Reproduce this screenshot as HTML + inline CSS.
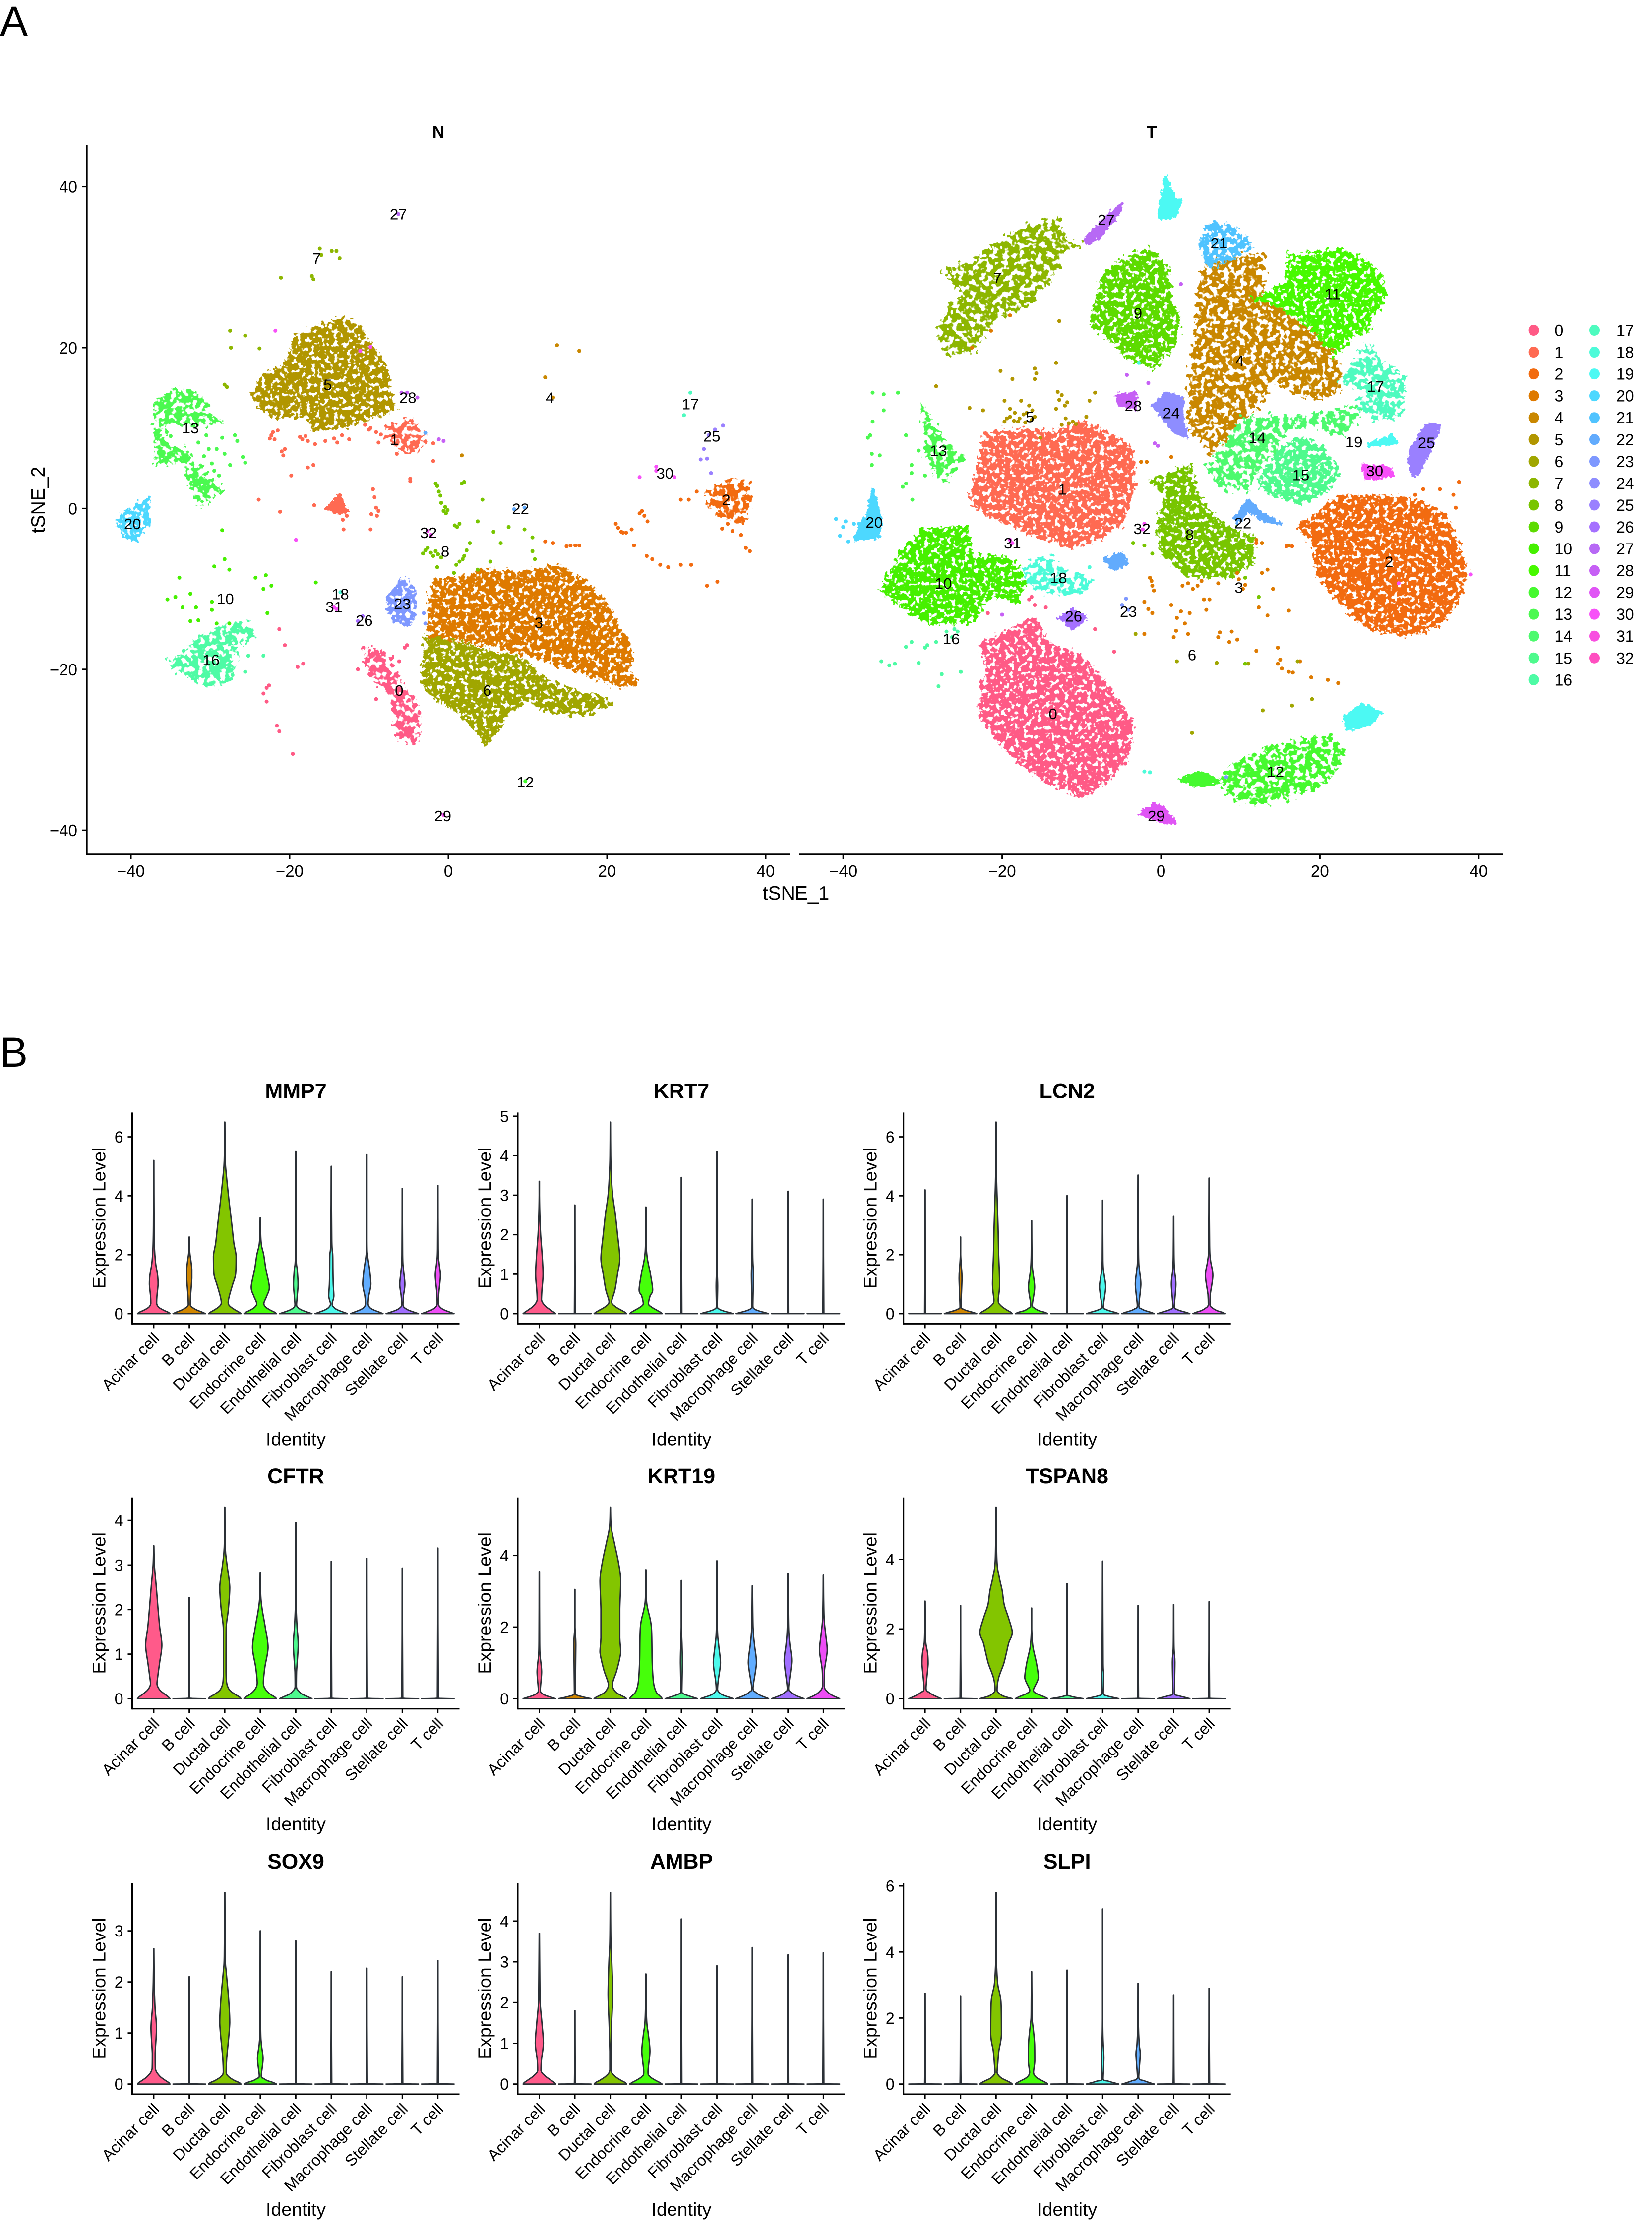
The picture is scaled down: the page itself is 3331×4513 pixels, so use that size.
<!DOCTYPE html>
<html lang="en">
<head>
<meta charset="utf-8">
<title>tSNE clusters and marker gene violins</title>
<style>
html,body{margin:0;padding:0;background:#fff}
svg{display:block}
text{font-family:"Liberation Sans",sans-serif;fill:#000}
</style>
</head>
<body>
<svg id="fig" xmlns="http://www.w3.org/2000/svg" width="3331" height="4513" viewBox="0 0 3331 4513">
<defs>
<filter id="speckle" x="-6%" y="-6%" width="112%" height="112%" color-interpolation-filters="sRGB">
<feTurbulence type="fractalNoise" baseFrequency="0.11" numOctaves="2" seed="7" result="n"/>
<feDisplacementMap in="SourceGraphic" in2="n" scale="26" xChannelSelector="R" yChannelSelector="G" result="d"/>
<feColorMatrix in="n" type="matrix" values="0 0 0 0 0 0 0 0 0 0 0 0 0 0 0 0 0 0 -16 10.1" result="m"/>
<feComposite in="d" in2="m" operator="in"/>
</filter>
<filter id="sparse" x="-8%" y="-8%" width="116%" height="116%" color-interpolation-filters="sRGB">
<feTurbulence type="fractalNoise" baseFrequency="0.09" numOctaves="2" seed="11" result="n"/>
<feDisplacementMap in="SourceGraphic" in2="n" scale="34" xChannelSelector="R" yChannelSelector="G" result="d"/>
<feColorMatrix in="n" type="matrix" values="0 0 0 0 0 0 0 0 0 0 0 0 0 0 0 0 0 0 -16 9.3" result="m"/>
<feComposite in="d" in2="m" operator="in"/>
</filter>
<filter id="rough" x="-25%" y="-25%" width="150%" height="150%" color-interpolation-filters="sRGB">
<feTurbulence type="fractalNoise" baseFrequency="0.14" numOctaves="2" seed="3" result="n"/>
<feDisplacementMap in="SourceGraphic" in2="n" scale="14" xChannelSelector="R" yChannelSelector="G"/>
</filter>
</defs>
<rect width="3331" height="4513" fill="#fff"/>
<text x="0" y="72" font-size="84">A</text>
<text x="0" y="2151" font-size="84">B</text>
<text x="884" y="278" font-size="34" font-weight="700" text-anchor="middle">N</text>
<text x="2322" y="278" font-size="34" font-weight="700" text-anchor="middle">T</text>
<text x="1605" y="1814" font-size="39" text-anchor="middle">tSNE_1</text>
<text transform="translate(90,1008) rotate(-90)" font-size="39" text-anchor="middle">tSNE_2</text>
<g id="tsne"></g>
<g id="legend"></g>
<g id="violins"></g>
</svg>
<script>
/* ---------- tSNE data (data units) ---------- */
const clusterLabels = ["0","1","2","3","4","5","6","7","8","9","10","11","12","13","14","15","16","17","18","19","20","21","22","23","24","25","26","27","28","29","30","31","32"];
const clusterColors = ["#FF5A86","#FF6A52","#F26B10","#DE7A00","#C98700","#B19600","#A0A600","#8DB600","#78C500","#5DDB00","#46F000","#47F900","#46F92F","#4BF950","#4DFA6E","#4EFA8D","#4EFBA5","#4EFBBF","#4DFBD9","#4CF9F3","#4DD8FF","#50C3FF","#62ABFD","#7E98FF","#8E8DFF","#9A80FF","#A570FF","#B769F5","#C660F5","#E055F5","#F750F8","#F84FE0","#FF4FC0"];
const xTicks = [-40,-20,0,20,40];
const yTicks = [-40,-20,0,20,40];

/* N panel: cluster outlines [x,y,x,y,...] */
const nOutline5 = [-24.7,14.1,-23.6,16.4,-20.6,17.8,-19.3,21.5,-16.4,22.5,-13.4,23.7,-11.1,22.5,-9.5,19.8,-7.8,17.4,-7.5,14.8,-6.8,12.4,-10.5,11.1,-13.1,10.1,-17,9.8,-17.7,11.4,-21.6,11.4,-23.3,12.1];
const nOutline3 = [-2.6,-15.3,-2.2,-10.3,-1.6,-9,1.4,-8.6,5,-7.6,8.3,-8,11.9,-7.6,13.9,-7,17.5,-9.3,20.1,-12,21.8,-15.3,23.1,-17.6,22.7,-20,23.9,-21.9,21.8,-22.1,17.8,-20.7,12.6,-19,9.3,-18,5.3,-17,1.4,-16.3,-1.9,-16];
const nOutline6 = [-2.9,-16,-.6,-16.3,2.7,-17,6,-18,9.3,-18.7,11.9,-21,15.2,-22.7,18.1,-23,20.8,-24.3,17.8,-25.3,15.2,-25.7,11.9,-25,9.9,-23.7,7.3,-25.7,6,-28,4.7,-29.3,2.7,-26.7,1.4,-25.3,-1.2,-24,-3.2,-21.7];
const nOutline23 = [-7.5,-10.6,-5.5,-8.6,-4.2,-10.3,-4.2,-13.3,-5.2,-14.5,-7.2,-13.6,-7.7,-12];
const nOutline0 = [-10.5,-17.4,-9.1,-17.6,-7.5,-18.6,-5.9,-22,-3.9,-24.3,-3.4,-27.3,-4.5,-29.3,-6.2,-28.7,-6.8,-26,-7,-23.3,-9.1,-21.3,-10.5,-19.4];
const nOutline13 = [-36.9,13.1,-34.8,14.8,-31.5,14.4,-29.8,11.4,-28.5,10.9,-31.5,10.4,-35.4,10.8,-36.1,8.8,-35.1,7.4,-33.1,7.4,-31.2,4.7,-28.5,2.4,-29.8,1.1,-31.2,.4,-32.8,3.4,-33.8,6.1,-36.8,5.4,-37.1,9.4];
const nOutline16 = [-35.3,-19.3,-33.5,-18,-32.1,-16.6,-29.5,-15,-25.6,-14,-24.6,-15.6,-26.9,-17.3,-27.2,-20.7,-28.9,-22,-32.1,-21.3,-34.1,-20];
const nOutline20 = [-41.7,-1.9,-41,-.6,-39,.4,-37.7,1.4,-37.7,-1.9,-39.4,-3.9,-41,-3.3];
const nOutline1a = [-7.8,10.1,-4.5,11.1,-2.9,9.1,-3.6,7.1,-5.9,7.4,-7.8,8.8];
const nOutline1b = [-15.4,-.1,-13.7,1.7,-12.8,-.3,-13.7,-.6];
const nOutline2 = [32.3,1.7,34.9,3.4,37.9,3.4,37.9,.4,37.2,-1.9,34.9,-1.3,32.9,.7];

/* N panel: scattered cells */
const nPoints1 = [-22.3,9.1,-21.9,8.6,-21.5,9.7,-21,7.1,-20.6,7.4,-18.7,8.9,-17.7,8.4,-16.8,8,-14.4,8.7,-13.4,9.1,-10.5,10.4,-9.1,9.5,-6.5,6.8,-4.8,3.7,-4.8,3.4,-17,5.4,-17.7,5.1,-19.8,4.1,-9.5,2.4,-9.1,.1,-8.8,-.3,-9.8,-2.6,-23.9,1.1,-21.2,-.4,-16.9,.4,-13.2,-2.6,-1.9,5.9,-1.9,8.1,-9,-.9,-22.5,8.7,-22.1,9.5,-20.8,6.6,-18.4,8.6,-18,9,-15.5,8.4,-14,8.2,-12.5,8.6,-10,9.8,-9.8,10,-8.5,9.2,-8.8,8.2,-12.8,-.9,-13.3,-1.4,-9.3,1.4,-9.7,-.7];
const nPoints0 = [-22.9,-22.3,-23.3,-23,-22.6,-22,-21.6,-27,-21.3,-27.7,-19,-19.7,-18.3,-19.3,-20.6,-17,-21.3,-15,-19.6,-30.5,-22.9,-24,-9.1,-23.7,-11.4,-20,-6.2,-19,-5.5,-17.3,-5.2,-17];
const nPoints8 = [-1.6,3.1,-1.2,2.1,-.9,.7,-.6,-.3,-.3,-.6,1.7,3.1,2,3.3,1.4,-1.9,1.1,-2.3,-3.2,-5.6,-2.6,-4.9,-1.9,-5.9,-1.6,-5.3,2,-5.9,1.4,-6.6,2.7,-4.3,4.3,1.1,-1.4,-7.3,.7,-8,5.7,-2.9,7.6,-2.3,9.6,-2.6,10.6,-3.6,10.9,-6.3,10.6,-5.3,6.6,-4.3,5.3,-6.6,3.7,-7.6,3.7,-1.6,-1.4,2.8,-1,1.6,-.4,.2,-.1,-.2,-2.9,-5.2,-2.2,-5.5,-1.3,-5.7,-.9,-6.1,1.8,-6.3,1,-7,2.3,-5.2,.8,-2.1];
const nPoints10 = [-28.2,-6.3,-27.6,-7.6,-29.5,-7.2,-28.5,-2.7,-33.9,-8.6,-35.4,-11.3,-34.4,-11,-32.5,-10.6,-33.5,-12.3,-31.8,-12.3,-29.8,-11.6,-29.8,-12.6,-24.3,-8.6,-23,-8.3,-22.3,-9.6,-23.3,-10,-22.8,-13,-16.7,-9.2,-31.5,-13.9,-32.5,-14,-29.2,-14.3,-27.6,-14.3];
const nPoints7 = [-16.2,32.3,-16,31.5,-17.2,28.9,-17,28.5,-21.1,28.7,-14.7,32,-13.7,31.1,-14.1,32,-27.5,22.1,-25.6,21.5,-27.4,20,-23.8,19.9,-28.2,15.4,-27.9,15.1];
const nPoints13 = [-30.5,9.1,-28.5,8.8,-26.9,9.1,-25.9,6.4,-25.6,5.7,-28.2,6.8,-29.2,7.4,-30.2,7.4,-27.5,5.4,-28.9,4.1,-26.6,8.4,-30.8,2.7,-29.5,4.7,-36.5,9,-36,8,-35.5,9.5,-35,9,-36.5,7,-36,6.5,-30.8,6.5,-29.8,5.6,-31.5,8.2];
const nPoints16 = [-25.2,-18.3,-23.3,-18.3,-25.6,-20.3,-27.2,-20.7];
const nPoints2 = [29.3,1.1,30.3,1.1,31.3,2.1,21.1,-1.9,21.8,-2.9,24.1,-.6,24.7,-.9,25.1,-1.6,23.1,-2.6,25.7,-6.3,26.7,-7,27.7,-7.3,29.3,-7,30.6,-7,32.6,-9.6,33.9,-9.1,35.2,-1.9,36.9,-3.3,37.5,-4.9,38,-5.3,14.9,-4.7,16.5,-4.6,12.2,-4.1,13.2,-4.3,23.4,-4.6,25,-5.9,21.4,-2.4,22,-3,22.4,-3,24.4,-.3,15.4,-4.6,16,-4.6,34.5,-2.5,35.8,-2.8,36.3,-1.6];
const nPoints4 = [13.7,20.3,16.5,19.6,12.2,16.3,13.2,13.8,1.7,6.6];
const nPoints30 = [-11.1,19.6,-9.8,20.1,-21.8,22.1,-19.2,-3.9,24.1,3.9,26.2,5.2,26.2,4.7,28.5,3.9,-2.6,-2.8,-2.2,-3.3,-14.1,-12.5,-14.4,-12.3,-.6,-38.1];
const nPoints28 = [-5.9,14.4,-5.2,14.4,-1.2,8.6,-.6,8.4,-3.9,13.8];
const nPoints25 = [34.6,10.3,33.6,9.8,32.2,7.4,32.6,6.2,31.8,6.1,33.1,4.4,32.8,9.1];
const nPoints22 = [8.3,-.1,9.6,.1,-2.9,9.4];
const nPoints26 = [-11.4,-14,-10.8,-13.4];
const nPoints27 = [-6.3,36.6];
const nPoints17 = [30.5,14.4,29.7,11.6];
const nPoints18 = [-13.6,-10.4];
const nPoints12 = [9.7,-33.9];
const nPoints23 = [-3.1,-13,-2.9,-14.3];
const nLabelIds = ["0","1","2","3","4","5","6","7","8","10","12","13","16","17","18","20","22","23","25","26","27","28","29","30","31","32"];
const nLabelX = [-6.2,-6.8,35,11.4,12.8,-15.2,4.9,-16.6,-.4,-28.1,9.7,-32.5,-29.9,30.5,-13.6,-39.8,9.1,-5.8,33.2,-10.6,-6.3,-5.1,-.7,27.3,-14.4,-2.5];
const nLabelY = [-22.6,8.6,1.1,-14.2,13.8,15.4,-22.6,31.1,-5.3,-11.2,-34,10,-18.8,13,-10.6,-1.9,0,-11.8,9,-13.9,36.6,13.8,-38.2,4.4,-12.2,-3];

/* T panel: cluster outlines */
const tOutline1 = [-24,1.3,-22.1,9.4,-18,9.8,-13.9,9.4,-9.8,10.8,-6.3,9.1,-3.5,7.4,-3.4,2.7,-4.9,-1.9,-7.6,-3.6,-11.1,-4.9,-15.9,-3.3,-20.8,-1.3,-23.2,.1];
const tOutline0 = [-22.8,-17,-16,-13.6,-13.9,-17,-10.4,-18,-7.6,-21,-4.9,-24.7,-3.5,-26.7,-4.2,-30.7,-6.3,-33.4,-9.7,-35.9,-13.9,-34.3,-17.3,-32,-20.1,-29.3,-22.8,-26,-22.5,-22,-21.8,-20];
const tOutline2 = [17.2,-2.3,22.7,1.7,28.2,1.4,31.6,1.1,35.8,-.6,37.5,-4.6,38.4,-8.3,36.8,-12.6,34.4,-14.9,30.3,-15.8,26.1,-14.9,22.7,-11.9,19.6,-8,19.2,-4.3];
const tOutline4 = [5.4,30.5,8.9,31.1,12.7,31.8,13,28.1,12.7,26.1,16.1,24.1,18.9,22.1,21.6,19.5,22.3,17.5,22.6,15.5,20.9,13.8,17.1,14.2,14.1,16.2,12.7,13.5,9.9,10.8,6.5,6.8,3.7,9.8,3.4,12.2,4.1,19.5,4.7,25.5,5.1,28.1];
const tOutline11 = [11.6,26.1,15.8,28.1,16.1,31.5,19.2,31.8,22.7,32.2,25.4,30.8,27.8,28.8,28.2,26.1,26.8,24.1,26.1,22.1,24.1,21.5,22,19.1,19.9,21.5,16.1,24.4,13.1,25.8];
const tOutline9 = [-8.7,24.1,-7,29.5,-3.5,31.5,-1.4,32.3,1,29.8,1,26.8,2.3,23.5,2,20.8,-.8,17.4,-4.2,18.8,-7,21.5,-8.7,22.8];
const tOutline7 = [-28,21.5,-26.6,25.1,-24.9,26.8,-27.3,29.5,-23.5,30.8,-18.7,34.2,-13.2,36.2,-12,33.2,-10.1,32.5,-11.8,32.5,-13.9,28.8,-16.7,25.2,-20.8,24.1,-23.5,19.8,-26.6,19.1];
const tOutline10 = [-35.2,-10,-32.5,-5.3,-30,-2.6,-24.5,-2.3,-23.8,-6,-20,-6,-18,-7.3,-17.1,-9.6,-18.1,-11.6,-19.8,-11,-21.8,-11,-23.5,-14,-29,-14.3,-32.5,-12.3];
const tOutline12a = [7.6,-33.7,8.9,-32,13,-30,17.1,-29,20.9,-28.3,23.3,-30,20.9,-34,15.8,-36,11.6,-36.7,8.9,-36];
const tOutline12b = [2.3,-33.7,4.8,-32.7,7.5,-34,4.8,-34.6];
const tOutline14a = [5.8,5.1,8.2,8.1,10.3,11.4,15.8,11.4,16.1,10.1,14.4,7.4,12.3,4.7,11,2.4,7.5,2.7];
const tOutline14b = [16.5,11.1,24.7,12.8,24.7,11.4,22.7,9.1,19.9,10.1,16.5,10.1];
const tOutline15 = [12.3,3.7,15.1,7.4,17.8,8.8,20.6,7.4,22.3,4.4,20.9,2.1,17.5,.7,13,2.1];
const tOutline17 = [22.7,15.8,26.1,20.5,27.8,18.1,30.6,16.1,30.6,14.1,29.9,11.4,26.8,10.9,24.7,12.8,26.1,14.8];
const tOutline18 = [-17.6,-7.3,-13.9,-6,-11.8,-8.3,-9,-8.3,-9.4,-10.3,-12.5,-10.6,-15.9,-10.3];
const tOutline8 = [-1.4,3.4,1.3,4.4,3.7,5.4,4.8,1.1,7.5,-1.9,11.6,-3.6,11.6,-6.6,8.9,-8.6,3,-8.3,0,-5.3,-.4,-1.9,.6,1.7];
const tOutline21 = [4.8,32.8,6.1,35.6,8.9,35.1,11.6,32.5,8.2,30.8,6.1,30.1];
const tOutline27 = [-9.7,33.4,-7.6,35.5,-5,38,-5.2,36.8,-7.3,34.2,-9,32.8];
const tOutline19a = [-.4,36.2,.6,41.4,1.7,38.5,2.5,38.2,1.7,36.2,0,36];
const tOutline19b = [26.1,8.1,29.2,9.1,29.6,8.1,26.1,7.8];
const tOutline19c = [23,-26,25.4,-24.3,27.6,-25.3,26.1,-27,23.4,-27.5];
const tOutline20 = [-38.7,-3.9,-37,-.6,-36.3,2.4,-35.2,-1.3,-35.6,-3.6];
const tOutline13 = [-30,12.8,-28,9.1,-24.9,6.2,-27.3,3.4,-29.7,6.4];
const tOutline24 = [-1.1,12.8,.6,14.4,2.7,13.8,2.7,11.4,3.4,8.8,1.7,9.4,.3,11.1];
const tOutline25 = [31.3,7.1,33.4,10.4,35.1,10.4,34,7.4,32.3,4.1,31.5,4.1];
const tOutline28 = [-5.6,14.1,-3.2,14.4,-3.2,12.4,-5.2,12.8];
const tOutline26 = [-12.8,-13.6,-11.1,-12.5,-9.4,-13.6,-11.1,-15];
const tOutline29 = [-2.8,-38,-.8,-36.7,.6,-37.4,1.9,-39.2,-.8,-38.7];
const tOutline30 = [25.4,5.4,28.9,5.1,29.2,4.1,25.8,3.7];
const tOutline22a = [9.2,-1.3,11,1.1,12.7,-.6,15.1,-1.9,13,-1.6,11,-.3,9.6,-1.9];
const tOutline22b = [-7.3,-6.3,-5,-5.6,-4.2,-6.9,-5.9,-7.6];

/* T panel: scattered cells */
const tPoints5 = [-20.2,17.1,-18.7,16.1,-15.9,17.4,-15.9,16.1,-13.2,18.1,-22.4,12.2,-24.1,12.5,-19.7,13.4,-19,12.4,-17.6,13.4,-16.6,12.8,-19.7,10.8,-18,10.8,-15.9,11.4,-12.5,14.1,-12.1,12.8,-13.2,12.4,-9,13.4,-8.3,14.4,-9.4,11.4,-12.5,10.4,-11.1,10.8,-28.3,15.2,-12.8,23.3,-15.2,8.8,-19,11.4,-18.4,11.9,-17.3,11.7,-16.9,11.9,-18.5,10.9,-19.4,11.2,-17.8,11.2,-16.3,11,-17.1,10.7,-16.2,12.2,-13,14.5,-12.8,13.5,-11.8,13.2,-12,11.2,-11.6,10.6,-10.7,10.5,-15.7,16.8];
const tPoints3 = [-1.4,-8.6,-1.1,-9.6,-2.1,-11.6,-1.1,-13,1.3,-12,2.7,-9.6,3.4,-9.3,5.4,-11.3,5.7,-12.6,2,-13.6,3,-14.3,1.6,-16,3.4,-15.6,-2.1,-15.6,7.2,-16,8.9,-15.3,9.6,-16.3,12,-17.7,14.7,-17.3,14.7,-19.3,16.1,-20.3,17.5,-19,18.9,-21,21,-21.3,22.3,-21.7,9.6,-8,10.3,-10,12.7,-8,13.4,-7.6,14.1,-10,12.3,-12.3,13.4,-13.3,16.1,-12.7,6.1,-11.3,7.2,-9.3,5.1,-9,12,-3.9,12.7,-4.3,16.1,-4.6,-2.5,5.8,-1.8,5.8,-21.4,22.1,-19,24,-23.8,20,1.3,6.4,-1.2,-9,-.9,-10.2,-1.6,-12.5,2.5,-12.8,3.6,-13,1.9,-15.2,4,-10,4.6,-9.6,7.4,-15.4,8.6,-16.6,9.8,-8.8,10.6,-9.5,15,-18.8,15.2,-19.9,16.6,-20.4];
const tPoints6 = [-3.2,-15.6,2,-19,7,-19.2,11,-19.3,17.2,-19,12.8,-25.1,16.5,-24.5,19,-23.7,3.9,-27.9];
const tPoints16 = [-35.2,-19,-34.2,-19.5,-33.5,-19.3,-32.1,-17.2,-30.5,-19.2,-29.4,-17,-28.3,-16.6,-27,-15.3,-26,-15,-25.6,-15.3,-25.2,-20.3,-27.6,-20.6,-28,-22.1,-31.4,-16.6,-29.7,-17.3,-26.3,-16];
const tPoints13 = [-36.3,14.4,-34.9,14.2,-33.1,14.4,-36.6,9.1,-36.9,8.8,-36.4,6.8,-36.4,5.4,-35.4,6.6,-31.4,5.4,-32.1,3.1,-32.5,2.7,-31.3,1.1,-30.5,7.2,-32.1,9.1,-34.9,12.2,-36.3,10.8,-31.4,4.4,-29.7,4.1];
const tPoints20 = [-40.9,-1.3,-40.4,-3.4,-39.4,-4.1,-40,-2.3,-39.7,-1.6,-38.7,-1.9,-38,-1.9,-36.3,2.1];
const tPoints30 = [-18.7,-4.3,-19,-3.9,-2.3,-2.6,-2.1,-1.9,29.9,-9.3,39,-8.2];
const tPoints0 = [-16.6,-11.3,-15.9,-12,-16.3,-11,-14.5,-12.3,-8.3,-15,-5.9,-17.8,-4.5,-31.7,-21.8,-13];
const tPoints18 = [-2.8,18.1,-2.1,-32.7,-1.4,-32.8,-9,-7.3];
const tPoints28 = [-.8,8.1,-.4,7.8,-4.3,16.6,-1.6,15.6,2.5,27.9,-20,-13.2];
const tPoints23 = [-4.4,-11.2,-4.9,-12,-4.1,-12.6,8.2,-33.4];
const tPoints8 = [-3.5,-4.3,-2.1,-4.6,-1.1,-5.6,10.6,-8.6,12.3,-11,10.6,-19.3];
const tPoints2 = [32,1.7,33,2.4,35.1,2.4,37.5,3.3,36.8,1.7,37.1,.1,12,-4.3,15.8,-4.7,16.5,-4.7];
const tLabelIds = ["0","1","2","3","4","5","6","7","8","9","10","11","12","13","14","15","16","17","18","19","20","21","22","23","24","25","26","27","28","29","30","31","32"];
const tLabelX = [-13.6,-12.4,28.7,9.8,9.9,-16.5,3.9,-20.6,3.6,-2.9,-27.4,21.6,14.4,-28,12.1,17.6,-26.4,27,-12.9,24.3,-36.1,7.3,10.3,-4.1,1.3,33.4,-11,-6.9,-3.5,-.6,26.9,-18.7,-2.4];
const tLabelY = [-25.5,2.4,-6.6,-9.8,18.4,11.4,-18.2,28.7,-3.2,24.3,-9.3,26.7,-32.7,7.2,8.8,4.2,-16.2,15.2,-8.6,8.3,-1.7,33,-1.8,-12.8,11.9,8.2,-13.4,35.9,12.8,-38.2,4.7,-4.3,-2.5];

/* ---------- violin data ---------- */
const cellTypes = ["Acinar cell","B cell","Ductal cell","Endocrine cell","Endothelial cell","Fibroblast cell","Macrophage cell","Stellate cell","T cell"];
const cellColors = ["#FF5A8A","#D08600","#83C500","#46FF0A","#4DFA8E","#4CF9EC","#61ADFF","#A06EFF","#EE4DF5"];
/* each violin: expression, density(0-100), expression, density, ... last pair is the maximum */
const mmp7 = [
[0,100,.05,88,.12,60,.22,30,.35,18,.6,20,1,27,1.3,24,1.7,12,2.2,5,3,2,5.2,1],
[0,100,.05,80,.12,48,.2,22,.3,6,.6,8,1.2,16,1.5,16,1.8,10,2.1,3,2.6,1],
[0,100,.05,88,.14,60,.25,32,.37,21,.6,28,1,49,1.35,67,1.95,70,2.4,56,3,44,4,23,5,5,5.5,2,6.5,1],
[0,100,.05,88,.12,62,.22,34,.35,22,.6,40,.9,56,1.5,35,2,21,2.3,8,2.6,3,3.25,1],
[0,100,.05,72,.12,38,.2,14,.3,5,.6,9,1,14,1.5,9,2,2,5.5,1],
[0,100,.05,75,.12,42,.2,18,.33,5,.6,16,1,12,1.5,10,2,9,2.5,3,5,1],
[0,100,.05,78,.12,45,.2,20,.33,8,.6,12,1,25,1.5,17,2,4,2.5,1,5.4,1],
[0,100,.05,72,.12,38,.2,14,.3,4,.6,7,1,16,1.5,7,2,2,4.25,1],
[0,100,.05,75,.12,42,.2,18,.33,4,.7,6,1.3,16,1.7,8,2.2,2,4.35,1]];
const krt7 = [
[0,100,.04,88,.1,66,.2,35,.35,13,.6,16,1,23,1.5,17,2,8,2.5,3,3,1,3.35,1],
[0,100,.01,3,2.75,1],
[0,100,.04,88,.1,62,.18,30,.3,8,.6,28,1,44,1.4,58,2,44,2.5,31,3,14,3.5,6,4,2,4.85,1],
[0,100,.04,88,.1,62,.17,34,.25,16,.45,26,.6,42,1,28,1.4,9,1.8,2,2.7,1],
[0,100,.01,3,3.45,1],
[0,100,.03,75,.07,40,.12,12,.2,3,.7,5,1,3,1.6,1,4.1,1],
[0,100,.03,75,.07,40,.12,12,.2,3,1,6,1.5,2,2.9,1],
[0,100,.01,3,3.1,1],
[0,100,.01,3,2.9,1]];
const lcn2 = [
[0,100,.01,3,4.2,1],
[0,100,.05,72,.1,40,.15,18,.22,3,1.2,9,1.6,5,2,1,2.6,1],
[0,100,.05,90,.14,62,.28,28,.45,13,1,22,2,16,3,12,4,6,5,2,6.5,1],
[0,100,.05,78,.1,46,.18,20,.3,5,.9,19,1.5,6,2,2,3.15,1],
[0,100,.01,3,4,1],
[0,100,.05,72,.1,40,.15,18,.22,4,.9,19,1.3,10,1.8,2,3.85,1],
[0,100,.05,75,.1,46,.16,22,.27,5,1,17,1.5,8,2,3,4.7,1],
[0,100,.05,72,.1,40,.15,18,.22,4,1,14,1.5,5,2,2,3.3,1],
[0,100,.05,78,.1,50,.18,24,.3,5,.65,7,1.3,23,1.8,9,2.3,3,4.6,1]];
const cftr = [
[0,100,.04,90,.1,68,.2,36,.33,20,.5,25,.8,36,1.2,50,1.6,37,2,27,2.5,16,3,4,3.43,1],
[0,100,.01,3,2.27,1],
[0,100,.04,90,.1,62,.2,28,.35,12,.6,8,1,8,1.6,9,2,22,2.5,31,3,14,3.4,3,4.3,1],
[0,100,.04,88,.1,62,.2,34,.35,19,.7,28,1.15,48,1.6,31,2,12,2.3,3,2.83,1],
[0,100,.04,76,.1,40,.18,16,.27,4,.6,5,1.2,15,1.6,8,2,3,2.5,1,3.95,1],
[0,100,.01,3,3.08,1],
[0,100,.01,3,3.15,1],
[0,100,.01,3,2.93,1],
[0,100,.01,3,3.38,1]];
const krt19 = [
[0,100,.04,72,.09,38,.15,16,.25,6,.75,14,1.2,5,1.6,2,3.55,1],
[0,100,.03,68,.07,32,.1,12,.15,3,1.5,6,2,1,3.05,1],
[0,100,.04,88,.1,62,.2,30,.4,12,.8,40,1.3,64,1.7,58,2.5,58,3.3,64,3.8,50,4.3,27,4.8,5,5.35,1],
[0,100,.04,94,.1,80,.2,62,.45,47,1,39,2,34,2.5,12,2.8,3,3.6,1],
[0,100,.04,72,.09,38,.13,16,.2,3,1,6,1.5,4,2,1,3.3,1],
[0,100,.04,75,.09,42,.15,20,.25,4,.5,8,1,22,1.5,11,2,3,3.85,1],
[0,100,.04,78,.1,46,.18,20,.3,4,1,25,1.5,13,2,4,3.15,1],
[0,100,.04,76,.1,44,.18,18,.3,4,1.05,23,1.5,12,2,4,3.5,1],
[0,100,.04,80,.1,52,.2,24,.35,5,.8,7,1.35,24,1.8,14,2.2,5,2.7,2,3.45,1]];
const tspan8 = [
[0,100,.04,80,.1,52,.18,26,.3,6,1,19,1.3,16,1.6,5,2,2,2.8,1],
[0,100,.01,3,2.67,1],
[0,100,.03,76,.08,42,.15,20,.25,6,.6,16,1,47,1.3,63,1.6,78,1.9,100,2.3,78,2.7,50,3.1,38,3.5,19,4,5,5.5,1],
[0,100,.04,84,.09,58,.15,30,.25,11,.6,42,1,31,1.5,8,2,1,2.6,1],
[0,100,.03,60,.08,15,.12,2,3.3,1],
[0,100,.04,62,.08,28,.15,4,.7,6,1,3,3.95,1],
[0,100,.01,3,2.67,1],
[0,100,.04,68,.08,36,.15,5,1.05,8,1.5,2,2.7,1],
[0,100,.01,3,2.78,1]];
const sox9 = [
[0,100,.03,92,.08,68,.16,36,.3,10,.6,9,1.1,17,1.5,8,2,3,2.65,1],
[0,100,.01,3,2.1,1],
[0,100,.03,88,.07,60,.14,26,.23,9,.5,12,1.2,31,1.7,23,2.2,9,2.5,3,3.75,1],
[0,100,.03,80,.07,42,.11,20,.16,6,.5,17,.8,6,1.2,2,3,1],
[0,100,.01,3,2.8,1],
[0,100,.01,3,2.2,1],
[0,100,.01,3,2.27,1],
[0,100,.01,3,2.1,1],
[0,100,.01,3,2.42,1]];
const ambp = [
[0,100,.04,92,.1,70,.2,36,.33,10,.6,13,1,25,1.5,16,2,5,2.5,3,3.7,1],
[0,100,.01,3,1.8,1],
[0,100,.04,90,.1,62,.2,26,.35,3,.8,3,1.5,8,2.2,14,3,9,3.5,3,4.7,1],
[0,100,.04,84,.1,56,.18,26,.3,13,.8,25,1.2,16,1.5,6,2,2,2.7,1],
[0,100,.01,3,4.05,1],
[0,100,.01,3,2.9,1],
[0,100,.01,3,3.35,1],
[0,100,.01,3,3.17,1],
[0,100,.01,3,3.22,1]];
const slpi = [
[0,100,.01,3,2.75,1],
[0,100,.01,3,2.67,1],
[0,100,.04,90,.1,66,.2,28,.35,6,.6,10,1,17,1.5,33,2.5,30,3,11,3.5,4,4,2,5.8,1],
[0,100,.04,90,.1,66,.2,30,.35,12,.7,20,1.2,19,1.6,12,2,3,2.5,2,3.4,1],
[0,100,.01,3,3.45,1],
[0,100,.04,68,.09,34,.15,3,.8,8,1.2,4,2,1,5.3,1],
[0,100,.04,72,.1,38,.2,4,.9,13,1.2,7,1.8,2,3.05,1],
[0,100,.01,3,2.7,1],
[0,100,.01,3,2.9,1]];
const geneNames = ["MMP7","KRT7","LCN2","CFTR","KRT19","TSPAN8","SOX9","AMBP","SLPI"];
const geneViolins = [mmp7,krt7,lcn2,cftr,krt19,tspan8,sox9,ambp,slpi];
const geneTicks = [[0,2,4,6],[0,1,2,3,4,5],[0,2,4,6],[0,1,2,3,4],[0,2,4],[0,2,4],[0,1,2,3],[0,1,2,3,4],[0,2,4,6]];

/* ---------- drawing ---------- */
const NS = "http://www.w3.org/2000/svg";
function make(parent, tag, attrs, txt) {
  const e = document.createElementNS(NS, tag);
  for (const k in attrs) e.setAttribute(k, attrs[k]);
  if (txt !== undefined) e.textContent = txt;
  parent.appendChild(e);
  return e;
}
const tsneRoot = document.getElementById("tsne");
const legendRoot = document.getElementById("legend");
const violinRoot = document.getElementById("violins");
const textureFilters = ["url(#rough)", "url(#speckle)", "url(#sparse)"];

function drawTsnePanel(name, sx, xAxisFrom, xAxisTo, drawYAxis, outlines, points, labelIds, labelX, labelY) {
  const X = v => sx.zero + sx.unit * v;
  const Y = v => 1025.4 - 16.22 * v;
  const panel = make(tsneRoot, "g", {});
  
  
  outlines.forEach(o => {
    const pts = [];
    for (let i = 0; i < o[1].length; i += 2) pts.push(X(o[1][i]).toFixed(1) + "," + Y(o[1][i + 1]).toFixed(1));
    const poly = make(panel, "polygon", {points: pts.join(" "), fill: clusterColors[o[0]], filter: textureFilters[o[2]], stroke: clusterColors[o[0]], "stroke-width": 5, "stroke-linejoin": "round"});
    
    
  });
  points.forEach(p => {
    for (let i = 0; i < p[1].length; i += 2) {
      const dot = make(panel, "circle", {cx: X(p[1][i]).toFixed(1), cy: Y(p[1][i + 1]).toFixed(1), r: 4, fill: clusterColors[p[0]]});
      
      
    }
  });
  labelIds.forEach((t, i) => {
    const lab = make(panel, "text", {x: X(labelX[i]).toFixed(1), y: (Y(labelY[i]) + 11).toFixed(1), "font-size": 31, "text-anchor": "middle"}, t);
    
    
  });
  const xAxis = make(panel, "line", {x1: xAxisFrom, x2: xAxisTo, y1: 1723, y2: 1723, stroke: "#000", "stroke-width": 3.4});
  
  
  xTicks.forEach(t => {
    const tick = make(panel, "line", {x1: X(t), x2: X(t), y1: 1723, y2: 1733, stroke: "#000", "stroke-width": 3});
    
    
    const lab = make(panel, "text", {x: X(t), y: 1768, "font-size": 33, "text-anchor": "middle"}, String(t).replace("-", "\u2212"));
    
    
  });
  if (drawYAxis) {
    const yAxis = make(panel, "line", {x1: 175, x2: 175, y1: 292, y2: 1724.7, stroke: "#000", "stroke-width": 3.4});
    
    
    yTicks.forEach(t => {
      const tick = make(panel, "line", {x1: 165, x2: 175, y1: Y(t), y2: Y(t), stroke: "#000", "stroke-width": 3});
      
      
      const lab = make(panel, "text", {x: 156, y: Y(t) + 12, "font-size": 33, "text-anchor": "end"}, String(t).replace("-", "\u2212"));
      
      
    });
  }
}

drawTsnePanel("n", {zero: 904, unit: 16}, 175, 1592, true,
  [[5,nOutline5,1],[3,nOutline3,1],[6,nOutline6,1],[23,nOutline23,1],[0,nOutline0,2],[13,nOutline13,2],[16,nOutline16,2],[20,nOutline20,1],[1,nOutline1a,2],[1,nOutline1b,0],[2,nOutline2,2]],
  [[1,nPoints1],[0,nPoints0],[8,nPoints8],[10,nPoints10],[7,nPoints7],[13,nPoints13],[16,nPoints16],[2,nPoints2],[4,nPoints4],[30,nPoints30],[28,nPoints28],[25,nPoints25],[22,nPoints22],[26,nPoints26],[27,nPoints27],[17,nPoints17],[18,nPoints18],[12,nPoints12],[23,nPoints23]],
  nLabelIds, nLabelX, nLabelY);

drawTsnePanel("t", {zero: 2341, unit: 16.02}, 1611, 3031, false,
  [[1,tOutline1,1],[0,tOutline0,1],[2,tOutline2,1],[4,tOutline4,2],[11,tOutline11,1],[9,tOutline9,1],[7,tOutline7,2],[10,tOutline10,1],[12,tOutline12a,2],[12,tOutline12b,0],[14,tOutline14a,2],[14,tOutline14b,2],[15,tOutline15,1],[17,tOutline17,2],[18,tOutline18,2],[8,tOutline8,1],[21,tOutline21,1],[27,tOutline27,0],[19,tOutline19a,0],[19,tOutline19b,0],[19,tOutline19c,0],[20,tOutline20,0],[13,tOutline13,2],[24,tOutline24,0],[25,tOutline25,0],[28,tOutline28,0],[26,tOutline26,0],[29,tOutline29,0],[30,tOutline30,0],[22,tOutline22a,0],[22,tOutline22b,0]],
  [[5,tPoints5],[3,tPoints3],[6,tPoints6],[16,tPoints16],[13,tPoints13],[20,tPoints20],[30,tPoints30],[0,tPoints0],[18,tPoints18],[28,tPoints28],[23,tPoints23],[8,tPoints8],[2,tPoints2]],
  tLabelIds, tLabelX, tLabelY);

/* legend */
clusterLabels.forEach((t, i) => {
  const col = i < 17 ? 0 : 1;
  const row = i < 17 ? i : i - 17;
  const y = 666 + 44.05 * row;
  const dot = make(legendRoot, "circle", {cx: col ? 3215 : 3092.6, cy: y, r: 11, fill: clusterColors[i]});
  
  
  const lab = make(legendRoot, "text", {x: col ? 3259 : 3134.5, y: y + 11.5, "font-size": 32}, t);
  
  
});

/* violins */
function smoothPath(pts) {
  let d = "M" + pts[0][0].toFixed(1) + " " + pts[0][1].toFixed(1);
  const clamp = (v, a, b) => Math.max(Math.min(a, b), Math.min(Math.max(a, b), v));
  for (let i = 0; i < pts.length - 1; i++) {
    const p0 = pts[Math.max(i - 1, 0)], p1 = pts[i], p2 = pts[i + 1], p3 = pts[Math.min(i + 2, pts.length - 1)];
    const c1x = clamp(p1[0] + (p2[0] - p0[0]) / 6, p1[0], p2[0]);
    const c1y = clamp(p1[1] + (p2[1] - p0[1]) / 6, p1[1], p2[1]);
    const c2x = clamp(p2[0] - (p3[0] - p1[0]) / 6, p1[0], p2[0]);
    const c2y = clamp(p2[1] - (p3[1] - p1[1]) / 6, p1[1], p2[1]);
    d += "C" + c1x.toFixed(1) + " " + c1y.toFixed(1) + " " + c2x.toFixed(1) + " " + c2y.toFixed(1) + " " + p2[0].toFixed(1) + " " + p2[1].toFixed(1);
  }
  return d;
}
const columnX = [266.5, 1044, 1821.7];
const rowBottom = [2669.4, 3445.8, 4223];
geneNames.forEach((gene, g) => {
  const ax = columnX[g % 3];
  const bottom = rowBottom[Math.floor(g / 3)];
  const top = bottom - 426;
  const violins = geneViolins[g];
  const peak = Math.max(...violins.map(v => v[v.length - 2]));
  const unit = 386.2 / peak;
  const Y = v => bottom - 20.4 - unit * v;
  const CX = i => ax + 43.5 + 71.6 * i;
  const key = gene.toLowerCase();
  const panel = make(violinRoot, "g", {});
  
  
  const title = make(panel, "text", {x: ax + 330, y: bottom - 455, "font-size": 43, "font-weight": 700, "text-anchor": "middle"}, gene);
  
  
  const yTitle = make(panel, "text", {transform: "translate(" + (ax - 54) + "," + (bottom - 213) + ") rotate(-90)", "font-size": 37.5, "text-anchor": "middle"}, "Expression Level");
  
  
  const xTitle = make(panel, "text", {x: ax + 330, y: bottom + 245, "font-size": 37.5, "text-anchor": "middle"}, "Identity");
  
  
  violins.forEach((v, i) => {
    const right = [], left = [];
    for (let k = 0; k < v.length; k += 2) {
      const w = 32.7 * v[k + 1] / 100;
      right.push([CX(i) + w, Y(v[k])]);
      left.unshift([CX(i) - w, Y(v[k])]);
    }
    const d = smoothPath(right) + smoothPath(left).replace(/^M[^C]*/, "L" + left[0][0].toFixed(1) + " " + left[0][1].toFixed(1)) + "Z";
    const shape = make(panel, "path", {d: d, fill: cellColors[i], stroke: "#2b3036", "stroke-width": 2.8, "stroke-linejoin": "round"});
    
    
    const tick = make(panel, "line", {x1: CX(i), x2: CX(i), y1: bottom, y2: bottom + 9, stroke: "#000", "stroke-width": 2.8});
    
    
    const lab = make(panel, "text", {transform: "translate(" + (CX(i) + 13) + "," + (bottom + 32) + ") rotate(-45)", "font-size": 32, "text-anchor": "end"}, cellTypes[i]);
    
    
  });
  geneTicks[g].forEach(t => {
    const tick = make(panel, "line", {x1: ax - 9, x2: ax, y1: Y(t), y2: Y(t), stroke: "#000", "stroke-width": 2.8});
    
    
    const lab = make(panel, "text", {x: ax - 18, y: Y(t) + 11.5, "font-size": 32, "text-anchor": "end"}, String(t));
    
    
  });
  const yAxis = make(panel, "line", {x1: ax, x2: ax, y1: top, y2: bottom + 1.5, stroke: "#000", "stroke-width": 3});
  
  
  const xAxis = make(panel, "line", {x1: ax, x2: ax + 660, y1: bottom, y2: bottom, stroke: "#000", "stroke-width": 3});
  
  
});
</script>
</body>
</html>
